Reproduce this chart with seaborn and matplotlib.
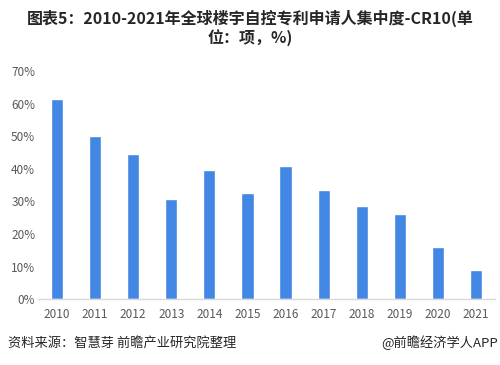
import matplotlib
matplotlib.use("Agg")
import matplotlib.pyplot as plt
import seaborn as sns
import pandas as pd

years = ["2010", "2011", "2012", "2013", "2014", "2015",
         "2016", "2017", "2018", "2019", "2020", "2021"]
cr10 = [61.4, 50.1, 44.6, 30.8, 39.7, 32.6, 40.9, 33.5, 28.6, 26.2, 16.0, 9.0]
y_ticks = [0, 10, 20, 30, 40, 50, 60, 70]

df = pd.DataFrame({"year": years, "cr10": cr10})

sns.set_style("white")
plt.rcParams["font.family"] = ["Noto Sans CJK SC", "DejaVu Sans"]

fig = plt.figure(figsize=(5, 3.65), dpi=100)
ax = fig.add_axes([0.076, 0.18, 0.914, 0.6255])

sns.barplot(data=df, x="year", y="cr10", color="#4287E3", width=0.32,
            saturation=1, ax=ax)

ax.set_ylim(0, 70)
ax.set_xlim(-0.5, len(years) - 0.5)
ax.set_yticks(y_ticks)
ax.set_yticklabels([f"{v}%" for v in y_ticks])
ax.set_xlabel("")
ax.set_ylabel("")

for s in ["top", "right", "left"]:
    ax.spines[s].set_visible(False)
ax.spines["bottom"].set_color("#d9d9d9")
ax.spines["bottom"].set_linewidth(1)

# tick marks between categories
ax.set_xticks([i + 0.5 for i in range(-1, len(years))], minor=True)
ax.tick_params(axis="x", which="minor", length=4, color="#d9d9d9", width=1,
               direction="out")
ax.tick_params(axis="x", which="major", length=0, labelsize=8.5,
               labelcolor="#595959", pad=6)
ax.tick_params(axis="y", length=0, labelsize=8.5, labelcolor="#595959", pad=2)

fig.text(0.5, 0.923, "图表5：2010-2021年全球楼宇自控专利申请人集中度-CR10(单\n位：项，%)",
         ha="center", va="center", fontsize=11.5, fontweight="bold",
         color="#262626", linespacing=1.15)

fig.text(0.016, 0.06, "资料来源：智慧芽 前瞻产业研究院整理", ha="left", va="center",
         fontsize=9.5, color="#262626")
fig.text(0.996, 0.06, "@前瞻经济学人APP", ha="right", va="center",
         fontsize=9.5, color="#262626")

fig.savefig("out.png", dpi=100)
